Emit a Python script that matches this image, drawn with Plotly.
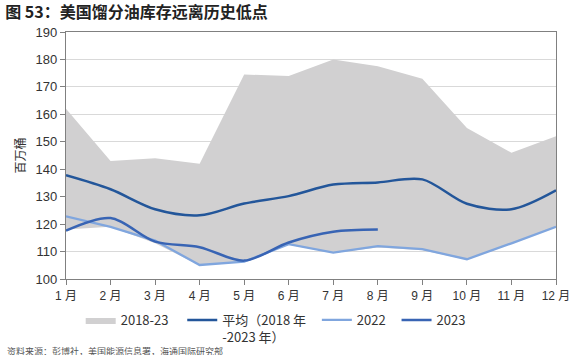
import plotly.graph_objects as go

months = ["1 月", "2 月", "3 月", "4 月", "5 月", "6 月", "7 月", "8 月", "9 月", "10 月", "11 月", "12 月"]
band_high = [162, 143, 144, 142, 174.5, 174, 180, 177.5, 173, 155, 146, 152]
band_low = [118, 119, 113, 105, 106.5, 112.5, 109.5, 111.5, 110.5, 107, 113, 119]
avg_2018_2023 = [137.8, 132.7, 125.4, 123.2, 127.5, 130.2, 134.4, 135.2, 136.3, 127.4, 125.4, 132.3]
y2022 = [122.8, 119.0, 114.0, 105.1, 106.3, 112.7, 109.6, 112.0, 110.9, 107.2, 113.0, 119.0]
y2023 = [117.6, 122.2, 113.6, 111.6, 106.7, 113.3, 117.2, 118.0]

x = list(range(1, 13))
NB = "\u00a0"

fig = go.Figure()
fig.add_trace(go.Scatter(x=x, y=band_low, mode="lines", line=dict(width=0, color="rgba(0,0,0,0)"),
                         showlegend=False, hoverinfo="skip"))
fig.add_trace(go.Scatter(x=x, y=band_high, mode="lines", line=dict(width=0, color="#d1d0d1"),
                         fill="tonexty", fillcolor="#d1d0d1", name="2018-23" + NB * 3))
fig.add_trace(go.Scatter(x=x, y=avg_2018_2023, mode="lines", line=dict(color="#23569a", width=2.5, shape="spline", smoothing=0.9),
                         name="平均（2018 年" + NB * 2 + "<br>-2023 年）"))
fig.add_trace(go.Scatter(x=x, y=y2022, mode="lines", line=dict(color="#80a6de", width=2.3),
                         name="2022" + NB * 2))
fig.add_trace(go.Scatter(x=x[:len(y2023)], y=y2023, mode="lines", line=dict(color="#3864b4", width=2.5, shape="spline", smoothing=0.9),
                         name="2023"))

fig.update_layout(
    width=582, height=355,
    margin=dict(l=66, r=26, t=32, b=76, autoexpand=False),
    paper_bgcolor="white", plot_bgcolor="white",
    font=dict(family="Noto Sans CJK SC, DejaVu Sans, sans-serif", size=13, color="#333333"),
    showlegend=True,
    legend=dict(orientation="h", x=0.03, xanchor="left", y=-0.105, yanchor="top",
                font=dict(size=13, color="#333333"), valign="top", bgcolor="rgba(0,0,0,0)",
                traceorder="normal", itemwidth=30, tracegroupgap=0),
    title=dict(text="<b>图 53：美国馏分油库存远离历史低点</b>", x=0.009, xanchor="left", y=0.966, yanchor="middle",
               font=dict(size=16, color="#222222")),
    annotations=[dict(text="资料来源：彭博社，美国能源信息署，海通国际研究部", xref="paper", yref="paper",
                      x=-0.125, xanchor="left", y=-0.292, yanchor="middle", showarrow=False,
                      font=dict(size=9, color="#555555"))],
)
fig.update_xaxes(range=[1, 12], tickmode="array", tickvals=x, ticktext=months, automargin=False,
                 showline=True, linecolor="#808080", linewidth=1.2, mirror=True,
                 ticks="outside", ticklen=5, tickcolor="#808080", showgrid=False, zeroline=False,
                 tickfont=dict(size=12, family="Liberation Sans, Noto Sans CJK SC"))
fig.update_yaxes(range=[100, 190], dtick=10, showgrid=True, gridcolor="#d9d9d9", gridwidth=1, automargin=False,
                 showline=True, linecolor="#808080", linewidth=1.2, mirror=True,
                 ticks="outside", ticklen=5, tickcolor="#808080", zeroline=False,
                 title=dict(text="百万桶", font=dict(size=12), standoff=7),
                 tickfont=dict(size=13, family="Liberation Sans, Noto Sans"))

fig.write_html("out.html", config={"displayModeBar": False},
               post_script="document.body.style.margin='0';")
